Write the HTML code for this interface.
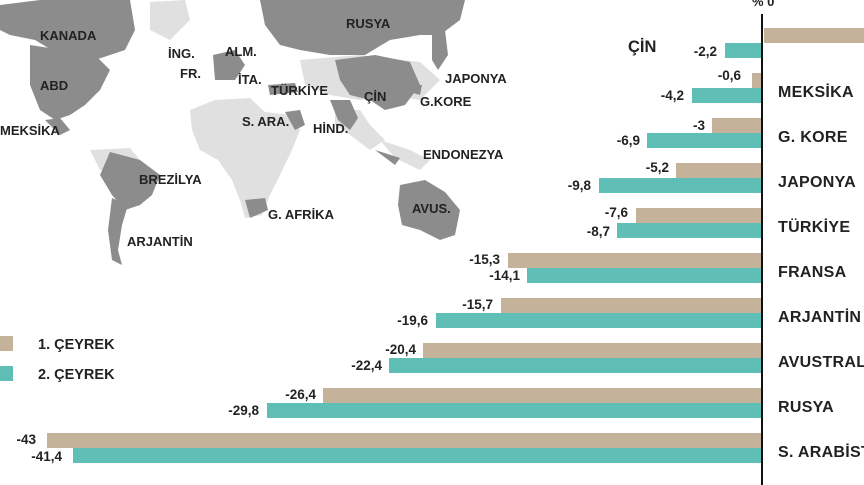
<!DOCTYPE html>
<html><head><meta charset="utf-8"><style>
html,body{margin:0;padding:0;background:#fff;}
svg{display:block;font-family:"Liberation Sans",sans-serif;font-weight:bold;}
</style></head><body>
<svg width="864" height="485" viewBox="0 0 864 485" xmlns="http://www.w3.org/2000/svg">
<rect width="864" height="485" fill="#fff"/>
<g fill="#e0e0e0">
<path d="M190,110 L215,100 L250,98 L265,112 L290,115 L300,130 L292,150 L280,175 L270,195 L262,215 L245,218 L240,200 L232,180 L218,160 L200,150 L192,130 Z"/>
<path d="M300,60 L360,55 L420,62 L440,80 L420,100 L390,95 L360,100 L330,95 L305,85 Z"/>
<path d="M335,110 L360,110 L370,125 L385,140 L370,150 L350,135 L335,125 Z"/>
<path d="M380,140 L410,150 L430,160 L420,170 L395,158 Z"/>
<path d="M90,150 L130,148 L140,160 L125,175 L100,170 Z"/>
<path d="M150,2 L185,0 L190,20 L170,40 L150,30 Z"/>
</g>
<g fill="#8c8c8c">
<path d="M0,5 L40,0 L130,0 L135,30 L125,50 L110,55 L95,60 L60,55 L35,40 L10,35 L0,30 Z"/>
<path d="M30,45 L95,55 L110,70 L100,90 L85,105 L70,115 L55,120 L40,110 L30,85 Z"/>
<path d="M45,120 L60,118 L70,130 L60,135 Z"/>
<path d="M110,152 L140,160 L160,175 L152,195 L140,205 L125,210 L112,195 L100,175 Z"/>
<path d="M112,198 L128,205 L122,225 L118,250 L122,265 L112,260 L108,230 Z"/>
<path d="M245,200 L265,198 L268,210 L250,218 Z"/>
<path d="M260,0 L465,0 L460,20 L440,35 L420,35 L390,40 L365,55 L330,55 L300,50 L280,45 L265,25 Z"/>
<path d="M335,60 L375,55 L410,62 L420,85 L405,105 L385,110 L370,100 L350,95 L340,80 Z"/>
<path d="M330,100 L350,100 L358,118 L350,130 L338,120 Z"/>
<path d="M285,112 L300,110 L305,125 L295,130 Z"/>
<path d="M268,85 L295,83 L298,92 L270,95 Z"/>
<path d="M213,55 L235,50 L245,65 L235,80 L215,80 Z"/>
<path d="M432,35 L445,30 L448,55 L438,70 L432,60 Z"/>
<path d="M415,85 L422,85 L420,95 L413,93 Z"/>
<path d="M400,185 L425,180 L445,192 L460,210 L455,235 L440,240 L420,230 L402,225 L398,205 Z"/>
<path d="M375,150 L400,158 L395,165 Z"/>
</g>
<g fill="#222" font-size="13">
<text x="40" y="40">KANADA</text><text x="40" y="90">ABD</text><text x="0" y="135">MEKSİKA</text>
<text x="139" y="184">BREZİLYA</text><text x="127" y="246">ARJANTİN</text>
<text x="168" y="58">İNG.</text><text x="180" y="78">FR.</text><text x="225" y="56">ALM.</text>
<text x="238" y="84">İTA.</text><text x="271" y="95">TÜRKİYE</text><text x="242" y="126">S. ARA.</text>
<text x="313" y="133">HİND.</text><text x="364" y="101">ÇİN</text><text x="420" y="106">G.KORE</text>
<text x="445" y="83">JAPONYA</text><text x="346" y="28">RUSYA</text><text x="423" y="159">ENDONEZYA</text>
<text x="268" y="219">G. AFRİKA</text><text x="412" y="213">AVUS.</text>
</g>
<rect x="0" y="336" width="13" height="15" fill="#c4b39a"/>
<rect x="0" y="366" width="13" height="15" fill="#5fbfb7"/>
<text x="38" y="349" font-size="14.5" fill="#222">1. ÇEYREK</text>
<text x="38" y="379" font-size="14.5" fill="#222">2. ÇEYREK</text>
<g fill="#c4b39a">
<rect x="764" y="28" width="100" height="15"/>
<rect x="752" y="73" width="10" height="15"/>
<rect x="712" y="118" width="50" height="15"/>
<rect x="676" y="163" width="86" height="15"/>
<rect x="636" y="208" width="126" height="15"/>
<rect x="508" y="253" width="254" height="15"/>
<rect x="501" y="298" width="261" height="15"/>
<rect x="423" y="343" width="339" height="15"/>
<rect x="323" y="388" width="439" height="15"/>
<rect x="47" y="433" width="715" height="15"/>
</g>
<g fill="#5fbfb7">
<rect x="725" y="43" width="37" height="15"/>
<rect x="692" y="88" width="70" height="15"/>
<rect x="647" y="133" width="115" height="15"/>
<rect x="599" y="178" width="163" height="15"/>
<rect x="617" y="223" width="145" height="15"/>
<rect x="527" y="268" width="235" height="15"/>
<rect x="436" y="313" width="326" height="15"/>
<rect x="389" y="358" width="373" height="15"/>
<rect x="267" y="403" width="495" height="15"/>
<rect x="73" y="448" width="689" height="15"/>
</g>
<line x1="762" y1="14" x2="762" y2="485" stroke="#111" stroke-width="2"/>
<text x="752" y="6" font-size="13" fill="#222">% 0</text>
<g font-size="13.5" fill="#222" text-anchor="end">
<text x="717" y="56">-2,2</text>
<text x="741" y="80">-0,6</text><text x="684" y="100">-4,2</text>
<text x="705" y="130">-3</text><text x="640" y="145">-6,9</text>
<text x="669" y="172">-5,2</text><text x="591" y="190">-9,8</text>
<text x="628" y="217">-7,6</text><text x="610" y="236">-8,7</text>
<text x="500" y="264">-15,3</text><text x="520" y="280">-14,1</text>
<text x="493" y="309">-15,7</text><text x="428" y="325">-19,6</text>
<text x="416" y="354">-20,4</text><text x="382" y="370">-22,4</text>
<text x="316" y="399">-26,4</text><text x="259" y="415">-29,8</text>
<text x="36" y="444">-43</text><text x="62" y="461">-41,4</text>
</g>
<text x="628" y="52" font-size="16.5" fill="#222">ÇİN</text>
<g font-size="16" fill="#222" letter-spacing="0.3">
<text x="778" y="97">MEKSİKA</text>
<text x="778" y="142">G. KORE</text>
<text x="778" y="187">JAPONYA</text>
<text x="778" y="232">TÜRKİYE</text>
<text x="778" y="277">FRANSA</text>
<text x="778" y="322">ARJANTİN</text>
<text x="778" y="367">AVUSTRALYA</text>
<text x="778" y="412">RUSYA</text>
<text x="778" y="457">S. ARABİSTAN</text>
</g>
</svg>
</body></html>
